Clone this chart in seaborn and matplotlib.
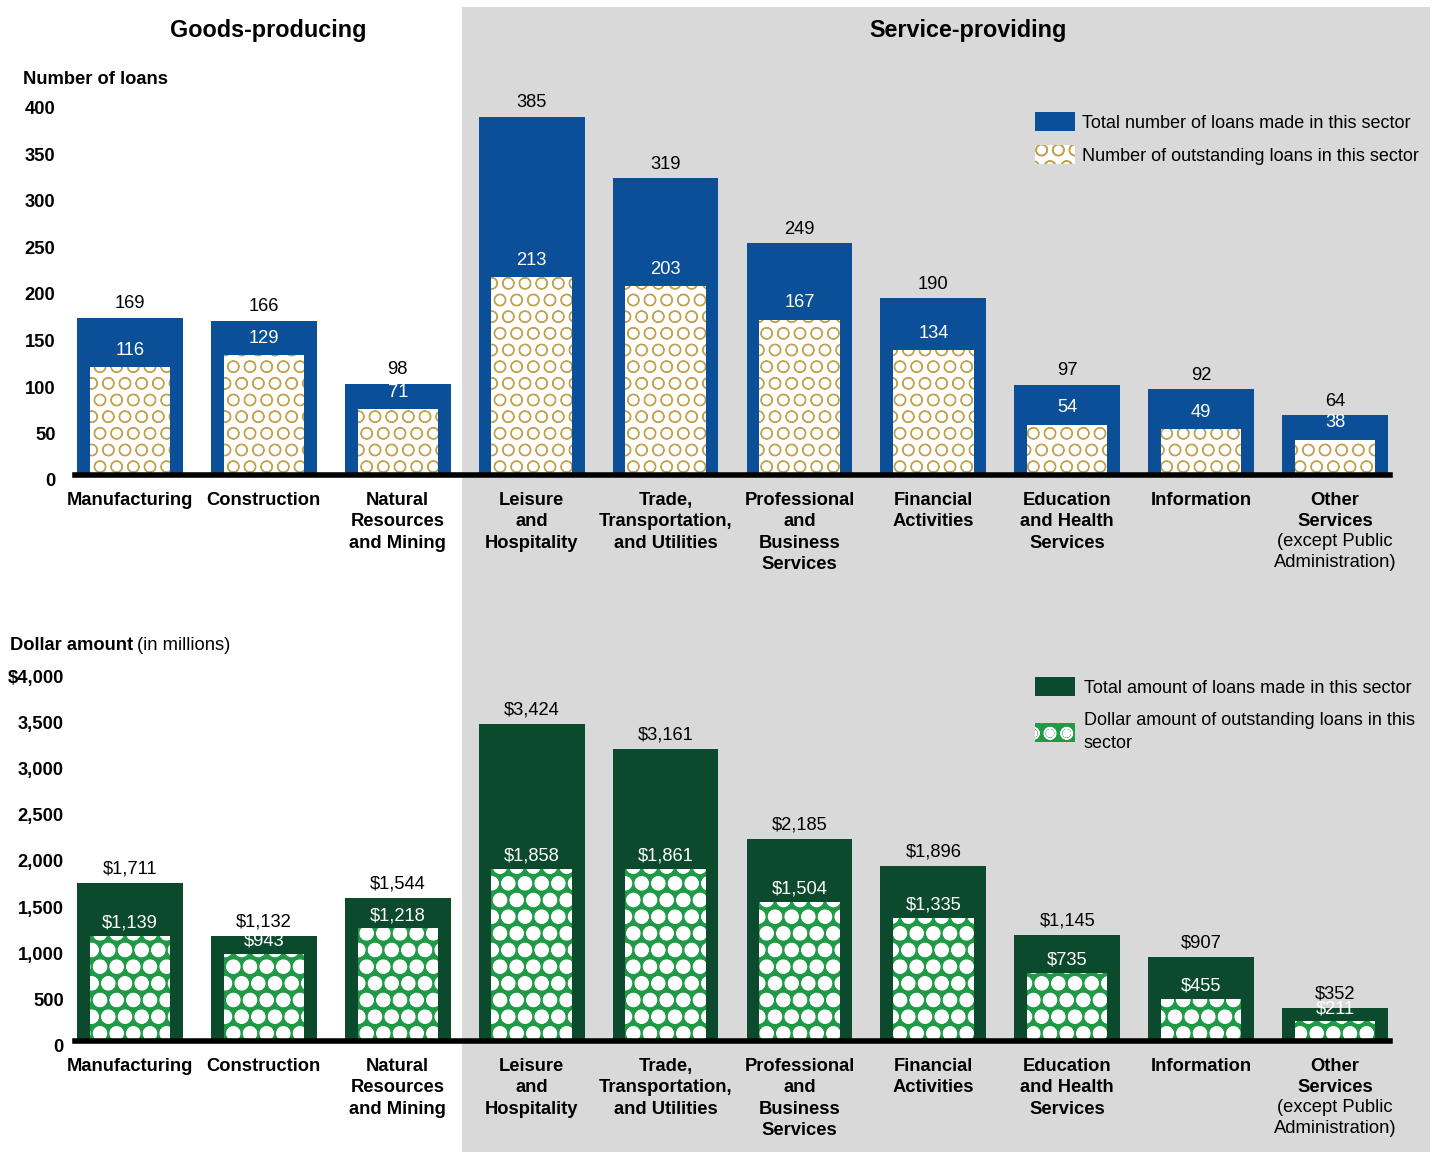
import matplotlib
matplotlib.use("Agg")
import matplotlib.pyplot as plt
import seaborn as sns
from matplotlib.patches import Rectangle
from matplotlib.transforms import ScaledTranslation

# ===== Data =====
sectors = ["Manufacturing", "Construction", "Natural\nResources\nand Mining",
           "Leisure\nand\nHospitality", "Trade,\nTransportation,\nand Utilities",
           "Professional\nand\nBusiness\nServices", "Financial\nActivities",
           "Education\nand Health\nServices", "Information", "Other\nServices"]
loans_total = [169, 166, 98, 385, 319, 249, 190, 97, 92, 64]
loans_outstanding = [116, 129, 71, 213, 203, 167, 134, 54, 49, 38]
dollars_total = [1711, 1132, 1544, 3424, 3161, 2185, 1896, 1145, 907, 352]
dollars_outstanding = [1139, 943, 1218, 1858, 1861, 1504, 1335, 735, 455, 211]

loan_ticks = [0, 50, 100, 150, 200, 250, 300, 350, 400]
dollar_ticks = [0, 500, 1000, 1500, 2000, 2500, 3000, 3500, 4000]
dollar_tick_labels = ["0", "500", "1,000", "1,500", "2,000", "2,500", "3,000", "3,500", "$4,000"]

# ===== Style =====
sns.set_style("white")
plt.rcParams["font.family"] = ["Liberation Sans", "DejaVu Sans"]
plt.rcParams["text.color"] = "black"
plt.rcParams["xtick.color"] = "black"
plt.rcParams["ytick.color"] = "black"

BLUE = "#0A4F97"
GOLD = "#C2A24E"
DKGREEN = "#0B4A2C"
GREEN = "#1F9A47"
GRAY = "#D9D9D9"
FS = 13.2

W, H = 1437, 1152
fig = plt.figure(figsize=(W / 100, H / 100), dpi=100)
fig.patch.set_facecolor("white")

# gray band behind the service-providing sectors
fig.patches.append(Rectangle((462 / W, 0), (1430 - 462) / W, 1 - 7 / H,
                             transform=fig.transFigure, facecolor=GRAY,
                             edgecolor="none", zorder=-1))

ax_left = 75 / W
ax_width = (1390 - 75) / W
ax1 = fig.add_axes([ax_left, (H - 475) / H, ax_width, 372 / H])
ax2 = fig.add_axes([ax_left, (H - 1041) / H, ax_width, 370 / H])


def draw_panel(ax, total, outstanding, outer_color, inner_face, hatch_color,
               hatch, hatch_lw, fmt, inner_pad):
    sns.barplot(x=sectors, y=total, ax=ax, color=outer_color, saturation=1,
                width=0.79, linewidth=0, zorder=2)
    sns.barplot(x=sectors, y=outstanding, ax=ax, color=inner_face, saturation=1,
                width=0.6, linewidth=0, zorder=3)
    inner = ax.containers[1]
    for p in inner.patches:
        p.set_facecolor(inner_face)
        p.set_edgecolor(hatch_color)
        p.set_hatch(hatch)
        p.set_linewidth(0)
        if hasattr(p, "set_hatch_linewidth"):
            p.set_hatch_linewidth(hatch_lw)
    ax.bar_label(ax.containers[0], labels=[fmt(v) for v in total], padding=4,
                 fontsize=FS, color="black")
    ax.bar_label(inner, labels=[fmt(v) for v in outstanding], padding=inner_pad,
                 fontsize=FS, color="white")
    ax.set_facecolor("none")
    ax.set_xlim(-0.41, 9.41)
    for s in ["top", "right", "left"]:
        ax.spines[s].set_visible(False)
    ax.spines["bottom"].set_linewidth(4)
    ax.spines["bottom"].set_color("black")
    ax.spines["bottom"].set_zorder(5)
    ax.tick_params(axis="both", length=0)
    ax.tick_params(axis="x", pad=12)
    ax.set_xticks(range(len(sectors)))
    ax.set_xticklabels(sectors, fontsize=FS, fontweight="bold",
                       linespacing=1.34, va="top")
    ax.annotate("(except Public\nAdministration)", xy=(9, 0),
                xycoords=ax.get_xaxis_transform(), xytext=(0, -41.5),
                textcoords="offset points", ha="center", va="top",
                fontsize=FS, linespacing=1.34)
    ax.set_xlabel("")
    ax.set_ylabel("")


draw_panel(ax1, loans_total, loans_outstanding, BLUE, "white", GOLD, "O", 0.85,
           lambda v: f"{v}", 6)
draw_panel(ax2, dollars_total, dollars_outstanding, DKGREEN, GREEN, "white", "Oo.", 2.0,
           lambda v: f"${v:,}", 3)

ax1.set_ylim(0, 400)
ax1.set_yticks(loan_ticks)
ax1.set_yticklabels([str(t) for t in loan_ticks], fontsize=FS, fontweight="bold")
ax1.tick_params(axis="y", pad=14)

ax2.set_ylim(0, 4000)
ax2.set_yticks(dollar_ticks)
ax2.set_yticklabels(dollar_tick_labels, fontsize=FS, fontweight="bold")
ax2.tick_params(axis="y", pad=8)

# tick labels sit a little below their gridline in the original
shift = ScaledTranslation(0, -5 / 100, fig.dpi_scale_trans)
for ax in (ax1, ax2):
    for lab in ax.get_yticklabels():
        lab.set_transform(lab.get_transform() + shift)

# ===== Titles =====
fig.text(268 / W, 1 - 31 / H, "Goods-producing", ha="center", va="center",
         fontsize=16.8, fontweight="bold")
fig.text(968 / W, 1 - 31 / H, "Service-providing", ha="center", va="center",
         fontsize=16.8, fontweight="bold")
fig.text(23 / W, 1 - 80 / H, "Number of loans", ha="left", va="center",
         fontsize=FS, fontweight="bold")
fig.text(10 / W, 1 - 646 / H, "Dollar amount", ha="left", va="center",
         fontsize=FS, fontweight="bold")
fig.text(137 / W, 1 - 646 / H, "(in millions)", ha="left", va="center", fontsize=FS)

# ===== Legends =====
ax1.legend([ax1.containers[0].patches[0], ax1.containers[1].patches[0]],
           ["Total number of loans made in this sector",
            "Number of outstanding loans in this sector"],
           loc="upper left", bbox_to_anchor=(1035 / W, 1 - 112 / H),
           bbox_transform=fig.transFigure, frameon=False, fontsize=13,
           handlelength=2.2, handleheight=1.25, handletextpad=0.4,
           borderpad=0, borderaxespad=0, labelspacing=0.75)
leg2 = ax2.legend([ax2.containers[0].patches[0], ax2.containers[1].patches[0]],
                  ["Total amount of loans made in this sector",
                   "Dollar amount of outstanding loans in this\nsector"],
                  loc="upper left", bbox_to_anchor=(1035 / W, 1 - 677 / H),
                  bbox_transform=fig.transFigure, frameon=False, fontsize=13,
                  handlelength=2.2, handleheight=1.25, handletextpad=0.5,
                  borderpad=0, borderaxespad=0, labelspacing=0.85)
leg2.get_texts()[1].set_linespacing(1.45)

plt.savefig("out.png", dpi=100)
